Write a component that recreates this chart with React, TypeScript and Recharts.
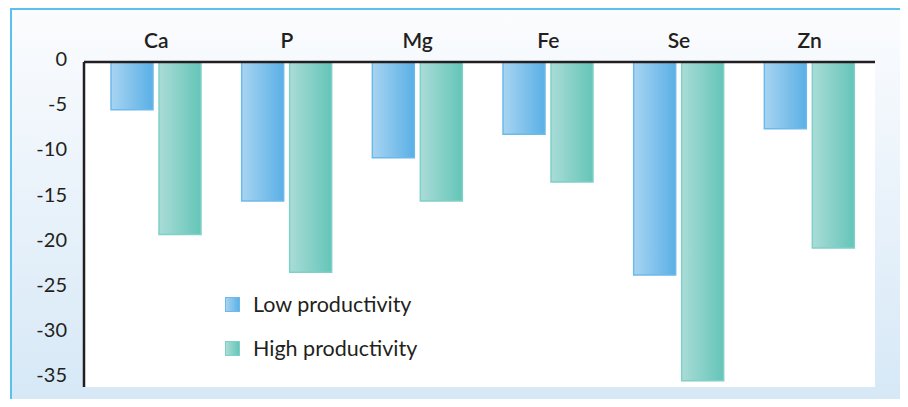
import { Bar, BarChart, CartesianGrid, XAxis, YAxis } from "recharts"

const minerals = ["Ca", "P", "Mg", "Fe", "Se", "Zn"]
const lowProductivity = [-5.3, -15.4, -10.6, -8.0, -23.6, -7.4]
const highProductivity = [-19.1, -23.3, -15.4, -13.3, -35.3, -20.6]
const yTicks = [0, -5, -10, -15, -20, -25, -30, -35]

const data = minerals.map((m, i) => ({
  mineral: m,
  low: lowProductivity[i],
  high: highProductivity[i],
}))

const FONT = "Lato, 'Open Sans', sans-serif"
const INK = "#231f20"

const LegendBox = () => (
  <div style={{ position: "absolute", left: 225, top: 290, fontFamily: FONT, fontSize: 21.5, color: INK }}>
    <div style={{ display: "flex", alignItems: "center", height: 28 }}>
      <span style={{ width: 13, height: 13, marginRight: 13, border: "1px solid #6db9e9", background: "linear-gradient(to right, #a6d3f1, #5cb1e7)" }} />
      Low productivity
    </div>
    <div style={{ display: "flex", alignItems: "center", height: 28, marginTop: 16 }}>
      <span style={{ width: 13, height: 13, marginRight: 13, border: "1px solid #7fd0c6", background: "linear-gradient(to right, #a8ddd7, #66c5b9)" }} />
      High productivity
    </div>
  </div>
)

const App = () => {
  return (
    <div style={{ position: "relative", width: 908, height: 407, margin: -8, overflow: "hidden" }}>
      <div
        style={{
          position: "absolute",
          left: 10,
          top: 8,
          width: 891,
          height: 410,
          border: "2px solid #5bc0eb",
          background: "linear-gradient(to bottom, #fbfcfe, #d4e7f6)",
        }}
      />
      <div style={{ position: "absolute", left: 0, top: 0 }}>
        <BarChart
          width={908}
          height={407}
          data={data}
          margin={{ top: 0, right: 33, bottom: 20, left: 0 }}
          barSize={42}
          barGap={6}
        >
          <defs>
            <linearGradient id="lowGrad" x1="0" y1="0" x2="1" y2="0">
              <stop offset="0%" stopColor="#a8d4f1" />
              <stop offset="100%" stopColor="#5ab0e6" />
            </linearGradient>
            <linearGradient id="highGrad" x1="0" y1="0" x2="1" y2="0">
              <stop offset="0%" stopColor="#aadcd7" />
              <stop offset="100%" stopColor="#64c5b8" />
            </linearGradient>
          </defs>
          <CartesianGrid fill="#ffffff" stroke="none" horizontal={false} vertical={false} />
          <XAxis
            dataKey="mineral"
            orientation="top"
            height={62}
            padding={{ left: 7, right: 0 }}
            tickSize={0}
            tickMargin={14}
            axisLine={{ stroke: INK, strokeWidth: 2.5 }}
            tickLine={false}
            tick={{ fill: INK, fontSize: 21, fontFamily: FONT, fontWeight: 600 }}
          />
          <YAxis
            domain={[-36, 0]}
            ticks={yTicks}
            width={84}
            tickSize={0}
            tickMargin={17}
            axisLine={{ stroke: INK, strokeWidth: 2.5 }}
            tickLine={false}
            tick={{ fill: INK, fontSize: 20, fontFamily: FONT, dy: -3 }}
            allowDataOverflow
          />
          <Bar dataKey="low" fill="url(#lowGrad)" stroke="#6db9e9" strokeWidth={1.5} isAnimationActive={false} />
          <Bar dataKey="high" fill="url(#highGrad)" stroke="#7fd0c6" strokeWidth={1.5} isAnimationActive={false} />
        </BarChart>
      </div>
      <LegendBox />
    </div>
  )
}

export default App
